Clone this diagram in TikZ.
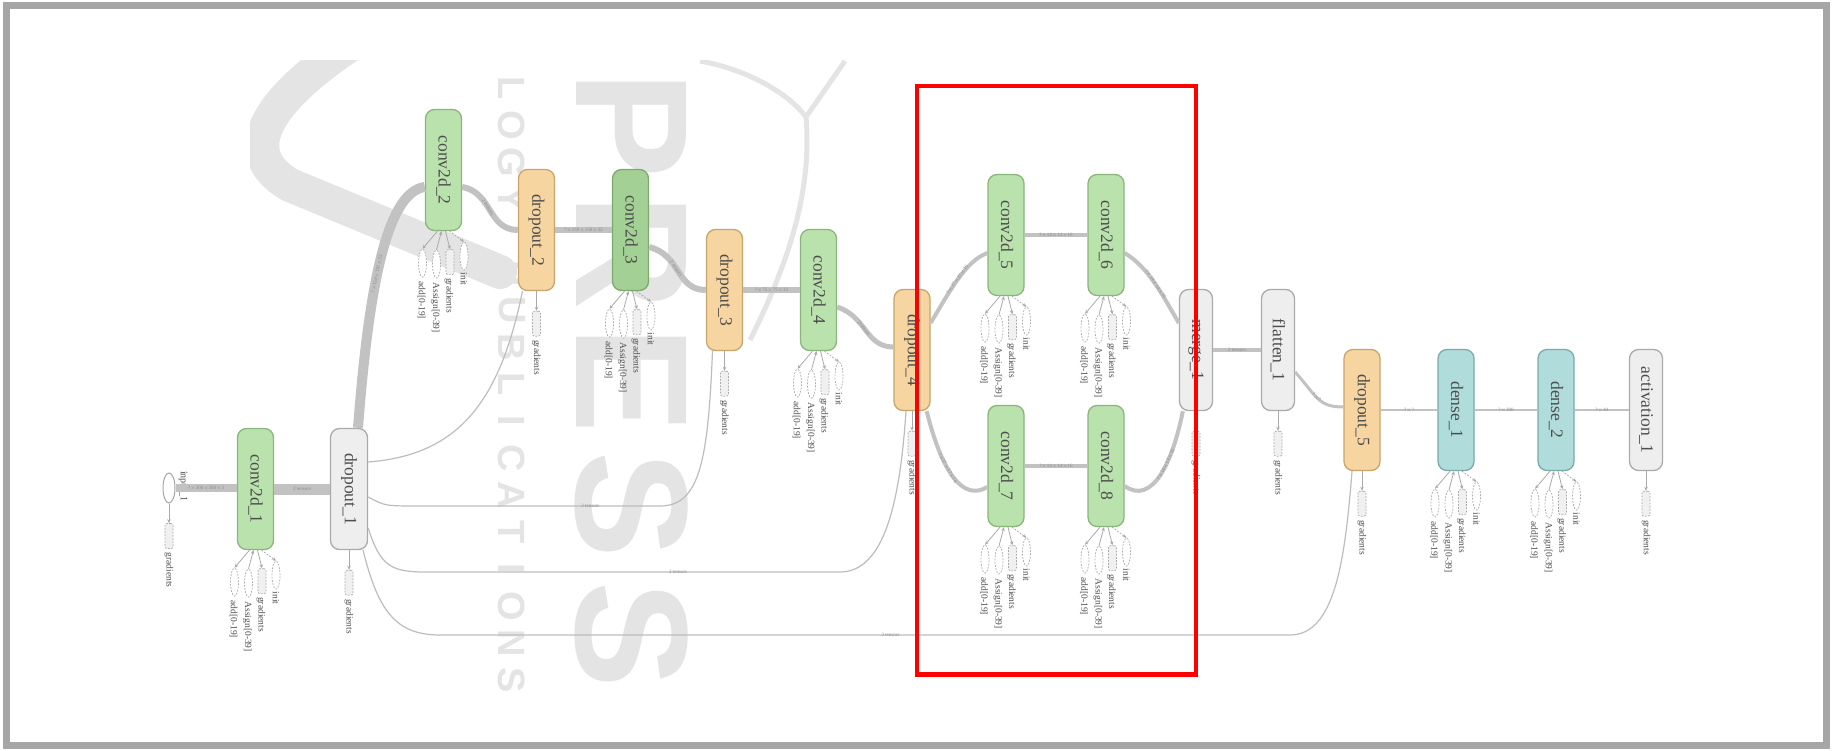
\documentclass[tikz,border=0pt]{standalone}
\usepackage{fontspec}
\setmainfont{Liberation Serif}
\setsansfont{Liberation Sans}
\usetikzlibrary{arrows.meta,calc,shapes.geometric}
\definecolor{convfill}{HTML}{B9E2AC}
\definecolor{convline}{HTML}{8CB47D}
\definecolor{convdfill}{HTML}{A3D094}
\definecolor{convdline}{HTML}{7FA86F}
\definecolor{dropfill}{HTML}{F6D5A0}
\definecolor{dropline}{HTML}{C9A46C}
\definecolor{grayfill}{HTML}{EEEEEE}
\definecolor{grayline}{HTML}{AAAAAA}
\definecolor{densefill}{HTML}{B0DCDC}
\definecolor{denseline}{HTML}{7AAAAA}
\definecolor{txt}{HTML}{4D4D4D}
\definecolor{edgec}{HTML}{C2C2C2}
\definecolor{thinc}{HTML}{BDBDBD}
\definecolor{smallc}{HTML}{AAAAAA}
\definecolor{wmc}{HTML}{E4E4E4}
\definecolor{framec}{HTML}{A6A6A6}
\definecolor{labc}{HTML}{8A8A8A}

\newcommand\opname[1]{\rotatebox{-90}{#1}}
\newcommand\gradgroup[2]{%
  \node[sbox] (#2g) at ($(#1.south)+(0,32.5)$) {};
  \draw[sarrow] (#1.south) -- (#2g.north);
  \node[slab] (#2l) at ($(#2g.south)+(0,3.5)$) {gradients};
}
\newcommand\paramgroup[2]{%
  \node[sell] (#2a) at ($(#1.south)+(-21,32)$) {};
  \node[sell] (#2s) at ($(#1.south)+(-7,33)$) {};
  \node[sbox] (#2g) at ($(#1.south)+(6.5,31)$) {};
  \node[sell] (#2i) at ($(#1.south)+(20.5,25)$) {};
  \draw[sarrow] ($(#1.south)+(-6,0)$) -- (#2a.north);
  \draw[sarrow] (#2s.north) -- ($(#1.south)+(-2,0)$);
  \draw[sarrow] ($(#1.south)+(2,0)$) -- (#2g.north);
  \draw[sarrow,dash pattern=on 1.8pt off 1.4pt] ($(#1.south)+(6,0)$) -- (#2i.north);
  \node[slab] (#2la) at ($(#2a.south)+(-1,4)$) {add[0-19]};
  \node[slab] (#2ls) at ($(#2s.south)+(-1,4)$) {Assign[0-39]};
  \node[slab] (#2lg) at ($(#2g.south)+(-1,3)$) {gradients};
  \node[slab] (#2li) at ($(#2i.south)+(0,2)$) {init};
}

\begin{document}
\begin{tikzpicture}[x=1pt,y=-1pt,
  opnode/.style={draw, rounded corners=9pt, line width=1.3pt, minimum width=36pt,
    minimum height=121pt, inner sep=0pt, text=txt, font=\fontsize{17.5}{18}\selectfont},
  conv/.style={opnode, fill=convfill, draw=convline},
  convd/.style={opnode, fill=convdfill, draw=convdline},
  drop/.style={opnode, fill=dropfill, draw=dropline},
  grayop/.style={opnode, fill=grayfill, draw=grayline, minimum width=33pt},
  dense/.style={opnode, fill=densefill, draw=denseline},
  sbox/.style={draw=smallc, fill=gray!12, dash pattern=on 1.8pt off 1.4pt, rounded corners=2pt,
    minimum width=8pt, minimum height=25pt, inner sep=0pt, line width=0.7pt},
  sell/.style={ellipse, draw=smallc, fill=white, dash pattern=on 1.8pt off 1.4pt,
    minimum width=8pt, minimum height=28pt, inner sep=0pt, line width=0.7pt},
  sarrow/.style={draw=smallc, line width=0.8pt, -{Stealth[length=4pt,width=3.5pt]}},
  slab/.style={rotate=-90, anchor=west, inner sep=0pt, text=txt, font=\fontsize{9.5}{10}\selectfont},
  thick edge/.style={draw=edgec, line cap=butt},
  thin edge/.style={draw=thinc, line width=1.2pt},
  elab/.style={font=\fontsize{5}{5}\selectfont, text=labc, inner sep=0.5pt, sloped},
  wmbig/.style={text=wmc, inner sep=0pt, font=\fontsize{160}{160}\selectfont\sffamily\bfseries},
  wmsmall/.style={text=wmc, inner sep=0pt, font=\fontsize{38}{38}\selectfont\sffamily\bfseries}
]
\useasboundingbox (0,0) rectangle (1833,751);
\fill[white] (0,0) rectangle (1833,751);

% watermark
\begin{scope}
  \clip (250,61) rectangle (860,696);
  \draw[wmc, line width=34, line cap=round, line join=round]
    (350,45) .. controls (275,95) and (230,150) .. (290,185) -- (500,272);
  \draw[wmc, line width=5] (700,61) .. controls (750,70) and (790,95) .. (806,117)
    .. controls (812,190) and (790,260) .. (750,340);
  \draw[wmc, line width=5] (806,117) -- (845,61);
  \foreach \ch/\yy in {P/125,R/252,E/380,S/505,S/635}
    \node[wmbig] (wm\yy) at (632,\yy) {\rotatebox{-90}{\ch}};
  \foreach \ch [count=\i] in {L,O,G,Y,{},P,U,B,L,I,C,A,T,I,O,N,S}
    \node[wmsmall] (wms\i) at (512,{680-(17-\i)*37}) {\rotatebox{-90}{\ch}};
\end{scope}

% operation nodes
\node[ellipse, draw=gray!70, fill=white, line width=1pt, minimum width=12pt, minimum height=30pt, inner sep=0pt] (in1) at (169,488) {};
\node[slab, font=\fontsize{10}{10}\selectfont] (in1l) at (183,471) {input\_1};
\node[conv] (c1) at (255.5,489) {\opname{conv2d\_1}};
\node[grayop, minimum width=37pt] (d1) at (349,489) {\opname{dropout\_1}};
\node[conv] (c2) at (443.5,170) {\opname{conv2d\_2}};
\node[drop] (d2) at (536.5,230) {\opname{dropout\_2}};
\node[convd] (c3) at (630.5,230) {\opname{conv2d\_3}};
\node[drop] (d3) at (724.5,290) {\opname{dropout\_3}};
\node[conv] (c4) at (818.5,290) {\opname{conv2d\_4}};
\node[drop] (d4) at (912,350) {\opname{dropout\_4}};
\node[conv] (c5) at (1006,235) {\opname{conv2d\_5}};
\node[conv] (c6) at (1106,235) {\opname{conv2d\_6}};
\node[conv] (c7) at (1006,466) {\opname{conv2d\_7}};
\node[conv] (c8) at (1106,466) {\opname{conv2d\_8}};
\node[grayop] (m1) at (1196,350) {\opname{merge\_1}};
\node[grayop] (f1) at (1278,350) {\opname{flatten\_1}};
\node[drop] (d5) at (1362,410) {\opname{dropout\_5}};
\node[dense] (de1) at (1456,410) {\opname{dense\_1}};
\node[dense] (de2) at (1556,410) {\opname{dense\_2}};
\node[grayop] (a1) at (1646,410) {\opname{activation\_1}};

% thick data edges
\draw[thick edge, line width=8] (in1.east) -- (in1.east -| c1.west) node[elab, midway] {?$\times$300$\times$300$\times$3};
\draw[thick edge, line width=11] (c1.east) -- (d1.west) node[elab, midway] {2 tensors};
\draw[thick edge, line width=10] ($(d1.north)+(9,0)$) .. controls +(10,-130) and +(-40,5) .. ($(c2.west)+(0,17)$)
  node[elab, pos=0.45] {?$\times$150$\times$150$\times$32};
\draw[thick edge, line width=6] ($(c2.east)+(0,17)$) .. controls +(30,5) and +(-30,0) .. (d2.west)
  node[elab, pos=0.45] {2 tensors};
\draw[thick edge, line width=6] (d2.east) -- (c3.west) node[elab, midway] {?$\times$150$\times$150$\times$32};
\draw[thick edge, line width=6] ($(c3.east)+(0,17)$) .. controls +(32,8) and +(-30,0) .. (d3.west)
  node[elab, pos=0.45] {2 tensors};
\draw[thick edge, line width=5] (d3.east) -- (c4.west) node[elab, midway] {?$\times$75$\times$75$\times$32};
\draw[thick edge, line width=5] ($(c4.east)+(0,17)$) .. controls +(30,10) and +(-28,0) .. ($(d4.west)+(0,-3)$)
  node[elab, pos=0.45] {2 tensors};
\draw[thick edge, line width=4] ($(d4.east)+(0,-27)$) .. controls +(18,-30) and +(-22,8) .. ($(c5.west)+(0,18)$)
  node[elab, pos=0.5] {?$\times$37$\times$37$\times$16};
\draw[thick edge, line width=4] ($(d4.south east)+(-4,0)$) .. controls +(15,60) and +(-25,15) .. ($(c7.west)+(0,21)$)
  node[elab, pos=0.4] {?$\times$37$\times$37$\times$16};
\draw[thick edge, line width=4] (c5.east) -- (c6.west) node[elab, midway] {?$\times$14$\times$14$\times$16};
\draw[thick edge, line width=4] (c7.east) -- (c8.west) node[elab, midway] {?$\times$14$\times$14$\times$16};
\draw[thick edge, line width=4] ($(c6.east)+(0,18)$) .. controls +(25,15) and +(-15,-25) .. ($(m1.west)+(0,-27)$)
  node[elab, pos=0.5] {?$\times$14$\times$14$\times$16};
\draw[thick edge, line width=4] ($(c8.east)+(0,20)$) .. controls +(28,20) and +(-10,50) .. ($(m1.south west)+(4,0)$)
  node[elab, pos=0.6] {?$\times$14$\times$14$\times$16};
\draw[thick edge, line width=4] (m1.east) -- (f1.west) node[elab, midway] {2 tensors};
\draw[thick edge, line width=3] ($(f1.east)+(0,22)$) .. controls +(22,25) and +(-25,0) .. ($(d5.west)+(0,-3)$)
  node[elab, pos=0.45] {?$\times$?};
\draw[thick edge, line width=2.5] (d5.east) -- (de1.west) node[elab, midway] {?$\times$?};
\draw[thick edge, line width=2.5] (de1.east) -- (de2.west) node[elab, midway] {?$\times$200};
\draw[thick edge, line width=2.5] (de2.east) -- (a1.west) node[elab, midway] {?$\times$10};

% thin edges from dropout_1
\draw[thin edge] ($(d1.east)+(0,-27)$) .. controls (460,455) and (500,400) .. ($(d2.south)+(-14,0)$);
\draw[thin edge] ($(d1.east)+(0,8)$) .. controls (385,506) .. (420,506) -- (660,506)
  node[elab, pos=0.71] {2 tensors}
  .. controls (700,506) and (708,460) .. ($(d3.south)+(-12,0)$);
\draw[thin edge] ($(d1.east)+(0,39)$) .. controls (380,565) and (390,572) .. (425,572) -- (840,572)
  node[elab, pos=0.61] {2 tensors}
  .. controls (885,572) and (900,500) .. ($(d4.south)+(-6,0)$);
\draw[thin edge] ($(d1.south)+(14,0)$) .. controls (378,610) and (395,635) .. (440,635) -- (1290,635)
  node[elab, pos=0.53] {2 tensors}
  .. controls (1335,635) and (1345,560) .. ($(d5.south)+(-10,0)$);

% auxiliary nodes
\gradgroup{in1}{in1x}
\paramgroup{c1}{c1x}
\gradgroup{d1}{d1x}
\paramgroup{c2}{c2x}
\gradgroup{d2}{d2x}
\paramgroup{c3}{c3x}
\gradgroup{d3}{d3x}
\paramgroup{c4}{c4x}
\gradgroup{d4}{d4x}
\paramgroup{c5}{c5x}
\paramgroup{c6}{c6x}
\paramgroup{c7}{c7x}
\paramgroup{c8}{c8x}
\gradgroup{m1}{m1x}
\gradgroup{f1}{f1x}
\gradgroup{d5}{d5x}
\paramgroup{de1}{de1x}
\paramgroup{de2}{de2x}
\gradgroup{a1}{a1x}

% highlight and frame
\draw[red, line width=4.5] (917,86) rectangle (1196,674.5);
\draw[framec, line width=7] (6,6) rectangle (1826,745);
\end{tikzpicture}
\end{document}
